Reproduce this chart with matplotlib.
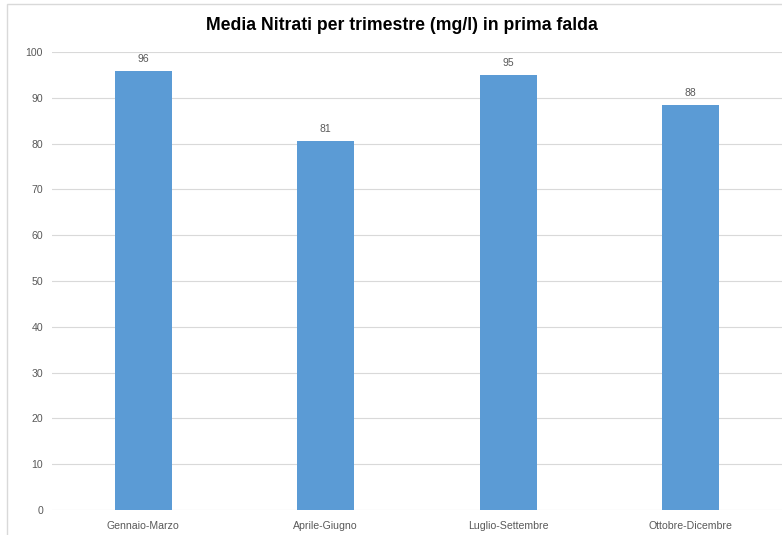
import matplotlib.pyplot as plt
from matplotlib.patches import Rectangle

trimestri = ["Gennaio-Marzo", "Aprile-Giugno", "Luglio-Settembre", "Ottobre-Dicembre"]
nitrati = [95.9, 80.6, 95.0, 88.4]
yticks = [0, 10, 20, 30, 40, 50, 60, 70, 80, 90, 100]

plt.rcParams["font.family"] = ["Liberation Sans", "DejaVu Sans"]

fig = plt.figure(figsize=(7.82, 5.35), dpi=100)
# cornice grigia del grafico (tagliata a destra e in basso)
fig.patches.append(
    Rectangle((7 / 782, -0.05), 1.1, 1 - 4 / 535 + 0.05, transform=fig.transFigure,
              fill=False, edgecolor="#D9D9D9", linewidth=1.0)
)

ax = fig.add_axes([52 / 782, 25 / 535, 1 - 52 / 782, 458 / 535])
x = range(len(trimestri))
bars = ax.bar(x, nitrati, width=0.31, color="#5B9BD5", zorder=3)

for b, v in zip(bars, nitrati):
    ax.annotate(f"{v:.0f}", (b.get_x() + b.get_width() / 2, v), xytext=(0, 5),
                textcoords="offset points", ha="center", va="bottom",
                fontsize=7.5, color="#595959")

ax.set_xlim(-0.5, len(trimestri) - 0.5)
ax.set_ylim(0, 100)
ax.set_yticks(yticks)
ax.set_xticks(list(x))
ax.set_xticklabels(trimestri)
ax.tick_params(axis="both", length=0, labelsize=7.6, labelcolor="#595959")
ax.tick_params(axis="y", pad=6.5)
ax.tick_params(axis="x", pad=8)
ax.grid(axis="y", color="#D9D9D9", linewidth=0.8, zorder=0)
for s in ax.spines.values():
    s.set_visible(False)

fig.text(402 / 782, 1 - 25.5 / 535, "Media Nitrati per trimestre (mg/l) in prima falda",
         ha="center", va="center", fontsize=12.7, fontweight="bold", color="black")

fig.savefig("out.png", dpi=100)
